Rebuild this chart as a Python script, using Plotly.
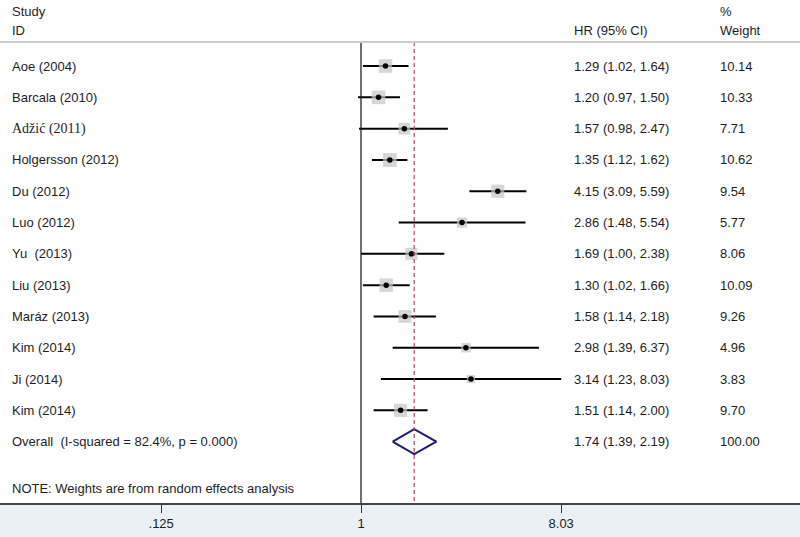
import plotly.graph_objects as go
import numpy as np

studies = ["Aoe (2004)", "Barcala (2010)", "Adžić (2011)", "Holgersson (2012)", "Du (2012)",
           "Luo (2012)", "Yu  (2013)", "Liu (2013)", "Maráz (2013)", "Kim (2014)",
           "Ji (2014)", "Kim (2014)"]
hr = [1.29, 1.20, 1.57, 1.35, 4.15, 2.86, 1.69, 1.30, 1.58, 2.98, 3.14, 1.51]
lo = [1.02, 0.97, 0.98, 1.12, 3.09, 1.48, 1.00, 1.02, 1.14, 1.39, 1.23, 1.14]
hi = [1.64, 1.50, 2.47, 1.62, 5.59, 5.54, 2.38, 1.66, 2.18, 6.37, 8.03, 2.00]
weights = [10.14, 10.33, 7.71, 10.62, 9.54, 5.77, 8.06, 10.09, 9.26, 4.96, 3.83, 9.70]

overall_label = "Overall  (I-squared = 82.4%, p = 0.000)"
overall_hr, overall_lo, overall_hi, overall_w = 1.74, 1.39, 2.19, 100.00
note = "NOTE: Weights are from random effects analysis"

tick_vals = [0.125, 1, 8.03]
tick_text = [".125", "1", "8.03"]

n = len(studies)
rows = list(range(n))
overall_row = n
note_row = n + 1.5

fig = go.Figure()

# CI lines
for i in rows:
    fig.add_trace(go.Scatter(x=[lo[i], hi[i]], y=[i, i], mode="lines",
                             line=dict(color="black", width=2), showlegend=False, hoverinfo="skip"))

# weight boxes
sizes = [13.5 * np.sqrt(w / 10.14) for w in weights]
fig.add_trace(go.Scatter(x=hr, y=rows, mode="markers",
                         marker=dict(symbol="square", size=sizes, color="#c4c4c4", line=dict(width=0)),
                         showlegend=False, hoverinfo="skip"))
# point estimates
fig.add_trace(go.Scatter(x=hr, y=rows, mode="markers",
                         marker=dict(symbol="circle", size=5.5, color="black"),
                         showlegend=False, hoverinfo="skip"))

# overall diamond
fig.add_trace(go.Scatter(x=[overall_lo, overall_hr, overall_hi, overall_hr, overall_lo],
                         y=[overall_row, overall_row - 0.4, overall_row, overall_row + 0.4, overall_row],
                         mode="lines", line=dict(color="#1c1c78", width=2),
                         showlegend=False, hoverinfo="skip"))

y_top = -0.77
y_bottom = 13.96

# null line
fig.add_shape(type="line", xref="x", yref="y", x0=1, x1=1, y0=y_top, y1=y_bottom,
              line=dict(color="#222222", width=1.3))
# overall dashed line
fig.add_shape(type="line", xref="x", yref="y", x0=overall_hr, x1=overall_hr, y0=y_top, y1=y_bottom,
              line=dict(color="#b04a58", width=1.2, dash="4px,3px"))
# header separator
fig.add_shape(type="line", xref="paper", yref="y", x0=0, x1=1, y0=y_top, y1=y_top,
              line=dict(color="#cccccc", width=2))

font = dict(family="Liberation Sans, Arial, sans-serif", size=13, color="#1e1e1e")
serif = dict(family="Liberation Serif, Times New Roman, serif", size=14, color="#1e1e1e")

ann = []
def add(text, x, y, f=font):
    ann.append(dict(text=text, x=x, y=y, xref="paper", yref="y", showarrow=False,
                    xanchor="left", yanchor="middle", font=f))

x_study, x_hr, x_w = 10 / 800, 572 / 800, 718 / 800
add("Study", x_study, -1.73)
add("ID", x_study, -1.15)
add("HR (95% CI)", x_hr, -1.15)
add("%", x_w, -1.73)
add("Weight", x_w, -1.15)
for i in rows:
    add(studies[i], x_study, i, serif if "ž" in studies[i] else font)
    add(f"{hr[i]:.2f} ({lo[i]:.2f}, {hi[i]:.2f})", x_hr, i)
    add(f"{weights[i]:.2f}", x_w, i)
add(overall_label, x_study, overall_row)
add(f"{overall_hr:.2f} ({overall_lo:.2f}, {overall_hi:.2f})", x_hr, overall_row)
add(f"{overall_w:.2f}", x_w, overall_row)
add(note, x_study, note_row)

fig.update_layout(
    width=800, height=537,
    margin=dict(l=0, r=0, t=0, b=34),
    paper_bgcolor="#eaf0f3", plot_bgcolor="white",
    annotations=ann, showlegend=False,
    xaxis=dict(type="log", range=[-1.6315, 1.984], tickvals=tick_vals, ticktext=tick_text,
               ticks="outside", ticklen=8, tickwidth=1.3, tickcolor="#333333",
               showline=True, linecolor="#444444", linewidth=1.5, showgrid=False, zeroline=False,
               tickfont=dict(family="Liberation Sans, Arial, sans-serif", size=13, color="#1e1e1e"),
               fixedrange=True),
    yaxis=dict(range=[y_bottom, y_top - 1.34], visible=False, showgrid=False, zeroline=False, fixedrange=True),
)

fig.write_html("out.html", config={"displayModeBar": False},
               post_script="document.body.style.margin='0';document.body.style.overflow='hidden';")
